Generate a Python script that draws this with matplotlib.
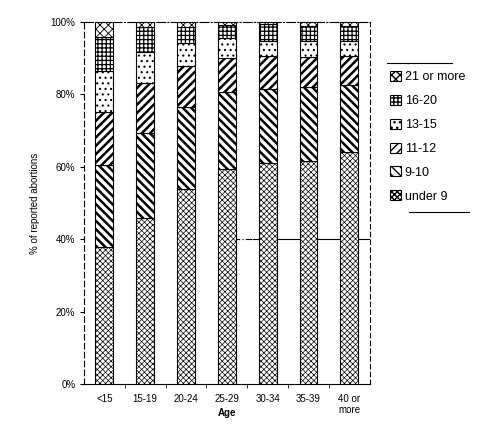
import matplotlib.pyplot as plt
from matplotlib.patches import Patch
import numpy as np

plt.rcParams['font.family'] = 'Liberation Sans'
plt.rcParams['font.size'] = 7

ages = ["<15", "15-19", "20-24", "25-29", "30-34", "35-39", "40 or\nmore"]

# percent of reported abortions by weeks of gestation
under_9 = [37.9, 45.8, 53.8, 59.3, 61.0, 61.7, 64.2]
wk_9_10 = [22.6, 23.6, 22.6, 21.3, 20.4, 20.3, 18.4]
wk_11_12 = [14.7, 13.7, 11.4, 9.4, 9.2, 8.2, 8.0]
wk_13_15 = [11.3, 8.7, 6.3, 5.5, 4.0, 4.4, 4.0]
wk_16_20 = [9.3, 6.9, 4.6, 3.7, 4.8, 4.3, 4.3]
wk_21_up = [4.2, 1.3, 1.3, 0.8, 0.6, 1.1, 1.1]

series = [
    ("under 9", under_9, "xxxxxx", 0.5),
    ("9-10", wk_9_10, "\\\\\\\\", 1.8),
    ("11-12", wk_11_12, "////", 1.8),
    ("13-15", wk_13_15, "...", 0.8),
    ("16-20", wk_16_20, "++++", 0.9),
    ("21 or more", wk_21_up, "xxxx", 0.6),
]

fig = plt.figure(figsize=(4.99, 4.47), dpi=100)
ax = fig.add_axes([0.168, 0.141, 0.573, 0.810])

x = np.arange(len(ages))
bottom = np.zeros(len(ages))
handles = []
for label, vals, hatch, hlw in series:
    with plt.rc_context({'hatch.linewidth': hlw}):
        ax.bar(x, vals, 0.44, bottom=bottom, color="white", edgecolor="black",
               hatch=hatch, linewidth=0.8, zorder=3)
        handles.append(Patch(facecolor="white", edgecolor="black", hatch=hatch,
                             linewidth=0.8, label=label))
    bottom += np.array(vals)

# partial gridline at 40%
ax.axhline(40, xmin=0.52, xmax=0.59, color="black", linewidth=0.8,
           linestyle=(0, (6, 2, 1, 2)), zorder=1)
ax.axhline(40, xmin=0.59, xmax=1.0, color="black", linewidth=0.8, zorder=1)

ax.set_xlim(-0.5, len(ages) - 0.5)
ax.set_ylim(0, 100)
ax.set_yticks(np.arange(0, 101, 20))
ax.set_yticklabels([f"{v}%" for v in range(0, 101, 20)])
ax.set_xticks(x)
ax.set_xticklabels(ages, va="top")
ax.set_xticks(np.arange(0.5, len(ages) - 1, 1), minor=True)
ax.tick_params(axis="x", which="major", length=0, pad=7)
ax.tick_params(axis="x", which="minor", length=3, direction="out")
ax.tick_params(axis="y", length=3, direction="out", pad=3)

ax.spines["left"].set_linestyle((0, (5, 3)))
ax.spines["right"].set_linestyle((0, (4, 3)))
ax.spines["top"].set_linestyle((0, (8, 2, 1, 2)))
for s in ax.spines.values():
    s.set_linewidth(0.8)

fig.text(0.455, 0.075, "Age", fontweight="bold", ha="center", va="center")
ax.set_ylabel("% of reported abortions", labelpad=8)

leg = fig.legend(handles=handles[::-1], loc="upper left",
                 bbox_to_anchor=(0.772, 0.852), frameon=False, fontsize=9,
                 handlelength=0.85, handleheight=0.85, handletextpad=0.3,
                 labelspacing=0.92, borderaxespad=0)

fig.add_artist(plt.Line2D([0.775, 0.905], [0.86, 0.86], color="black", linewidth=0.8))
fig.add_artist(plt.Line2D([0.82, 0.94], [0.526, 0.526], color="black", linewidth=0.8))

fig.savefig("out.png", dpi=100)
